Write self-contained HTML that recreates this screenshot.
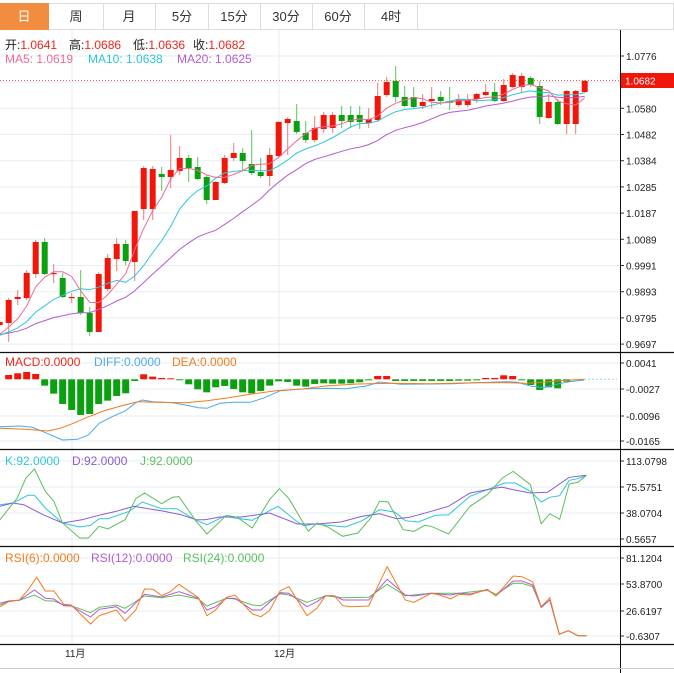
<!DOCTYPE html>
<html><head><meta charset="utf-8">
<style>
html,body{margin:0;padding:0;background:#fff;width:674px;height:673px;overflow:hidden}
svg text{font-family:"Liberation Sans","Noto Sans CJK SC",sans-serif}
</style></head>
<body>
<svg id="s" width="674" height="673" xmlns="http://www.w3.org/2000/svg">
<rect x="0" y="0" width="674" height="673" fill="#fff"/>
<g id="tabs">
<rect x="0.5" y="3.5" width="673" height="26" fill="#fff" stroke="#ddd"/>
<rect x="0" y="3" width="49" height="27" fill="#f28c3e"/>
<g stroke="#ddd"><line x1="103.5" y1="3" x2="103.5" y2="30"/><line x1="155.5" y1="3" x2="155.5" y2="30"/><line x1="208.5" y1="3" x2="208.5" y2="30"/><line x1="260.5" y1="3" x2="260.5" y2="30"/><line x1="312.5" y1="3" x2="312.5" y2="30"/><line x1="364.5" y1="3" x2="364.5" y2="30"/><line x1="417.5" y1="3" x2="417.5" y2="30"/></g>
<g font-size="13" text-anchor="middle" fill="#333">
<text x="24" y="21" fill="#fff">日</text><text x="76" y="21">周</text><text x="129" y="21">月</text><text x="182" y="21">5分</text><text x="234" y="21">15分</text><text x="286" y="21">30分</text><text x="338" y="21">60分</text><text x="391" y="21">4时</text>
</g></g>
<g id="grid" stroke="#e6edf2" stroke-width="1"></g>
<g id="plot"></g>
<g font-size="12">
<text x="5" y="49"><tspan fill="#222">开:</tspan><tspan fill="#f0261e">1.0641</tspan></text>
<text x="69" y="49"><tspan fill="#222">高:</tspan><tspan fill="#f0261e">1.0686</tspan></text>
<text x="133" y="49"><tspan fill="#222">低:</tspan><tspan fill="#f0261e">1.0636</tspan></text>
<text x="193" y="49"><tspan fill="#222">收:</tspan><tspan fill="#f0261e">1.0682</tspan></text>
<text x="5" y="63" fill="#f06a95">MA5: 1.0619</text>
<text x="88" y="63" fill="#2ec6d9">MA10: 1.0638</text>
<text x="177" y="63" fill="#b45ad2">MA20: 1.0625</text>
<text x="5" y="366" fill="#f0261e">MACD:0.0000</text>
<text x="94" y="366" fill="#4aa8f0">DIFF:0.0000</text>
<text x="172" y="366" fill="#f57a1c">DEA:0.0000</text>
<text x="5" y="465" fill="#2ec6d9">K:92.0000</text>
<text x="72" y="465" fill="#8a5ad8">D:92.0000</text>
<text x="140" y="465" fill="#5cbf5c">J:92.0000</text>
<text x="5" y="562" fill="#f57a1c">RSI(6):0.0000</text>
<text x="91" y="562" fill="#b45ad2">RSI(12):0.0000</text>
<text x="183" y="562" fill="#5cbf5c">RSI(24):0.0000</text>
</g>
<g id="axis" font-size="10" fill="#222"></g>
</svg>
<script>
var S=document.getElementById('s'),NS='http://www.w3.org/2000/svg';
function el(p,t,a,txt){var e=document.createElementNS(NS,t);for(var k in a)e.setAttribute(k,a[k]);if(txt!=null)e.textContent=txt;(typeof p=='string'?document.getElementById(p):p).appendChild(e);return e;}
var grid='grid',plot='plot',axis='axis';
var pl=[['1.0776',56],['1.0678',82],['1.0580',108.3],['1.0482',134.5],['1.0384',160.7],['1.0285',186.9],['1.0187',213.1],['1.0089',239.3],['0.9991',265.5],['0.9893',291.7],['0.9795',317.9],['0.9697',344.1]];
pl.forEach(function(p){el(grid,'line',{x1:0,x2:620,y1:p[1],y2:p[1]});if(p[0]!='1.0678')el(axis,'text',{x:626,y:p[1]+4},p[0]);});
var sub=[[363,'0.0041'],[389,'-0.0027'],[416,'-0.0096'],[441,'-0.0165'],[461,'113.0798'],[487,'75.5751'],[513,'38.0704'],[539,'0.5657'],[558,'81.1204'],[584,'53.8700'],[611,'26.6197'],[636,'-0.6307']];
sub.forEach(function(p){el(grid,'line',{x1:0,x2:620,y1:p[0],y2:p[0]});el(axis,'line',{x1:620,x2:624,y1:p[0],y2:p[0],stroke:'#333'});el(axis,'text',{x:626,y:p[0]+4},p[1]);});
pl.forEach(function(p){el(axis,'line',{x1:620,x2:624,y1:p[1],y2:p[1],stroke:'#333'});});
[72,279].forEach(function(x){el(grid,'line',{x1:x,x2:x,y1:30,y2:644});});
el(axis,'text',{x:65,y:657},'11月');el(axis,'text',{x:274,y:657},'12月');
var C=[[325,322,320,327],[323,300,298,342],[299,297,290,305],[298,273,270,300],[274,242,240,278],[242,274,238,275],[273,273,264,283],[278,297,273,298],[297,297,293,303],[297,313,270,315],[313,332,307,336],[332,274,272,332],[289,258,254,291],[259,244,238,271],[244,261,240,265],[262,211,211,281],[209,168,166,220],[209,169,166,220],[174,177,167,191],[177,170,135,188],[171,158,146,175],[158,168,155,182],[167,179,157,180],[177,200,175,204],[200,182,181,200],[183,158,155,184],[158,153,143,161],[153,161,148,170],[164,173,130,175],[172,176,158,178],[176,155,148,186],[156,122,121,157],[123,119,117,155],[121,132,104,134],[133,140,121,143],[140,128,116,142],[129,115,112,133],[128,115,112,133],[115,121,106,128],[115,122,106,128],[115,122,106,129],[123,119,108,128],[120,96,83,122],[95,82,77,97],[81,97,66,102],[97,106,86,107],[97,107,87,108],[106,102,94,109],[101,99,87,108],[97,101,91,105],[101,103,87,110],[105,99,94,107],[105,99,94,107],[99,94,93,103],[95,92,84,96],[92,101,83,102],[101,85,79,102],[87,75,73,88],[87,76,73,92],[78,85,76,87],[86,117,81,124],[118,102,94,119],[102,124,99,125],[124,91,90,134],[124,91,90,134],[92,81,80,93]];
function X(i){return -0.3+9*i;}
el(plot,'line',{x1:0,x2:620,y1:80.5,y2:80.5,stroke:'#f55','stroke-dasharray':'1,2'});
C.forEach(function(c,i){var col=c[1]<=c[0]?'#f0160a':'#0aa00f';var x=X(i);
el(plot,'line',{x1:x,x2:x,y1:c[2],y2:c[3],stroke:col=='#f0160a'?'#f57a72':'#5cc45c'});
var t=Math.min(c[0],c[1]),h=Math.max(Math.abs(c[0]-c[1]),1.2);el(plot,'rect',{x:x-3,y:t,width:6,height:h,fill:col});});
var cl=C.map(function(c){return c[1];});var pre=[];for(var k=0;k<20;k++)pre.push(338-k*0.3);pre.reverse();var all=pre.concat(cl);
function ma(n,col){var pts=[];for(var i=0;i<C.length;i++){var s=0;for(var j=0;j<n;j++)s+=all[20+i-j];pts.push(X(i).toFixed(1)+','+(s/n).toFixed(1));}el(plot,'polyline',{points:pts.join(' '),fill:'none',stroke:col,'stroke-width':1});}
ma(20,'#b45ad2');ma(10,'#2ec6d9');ma(5,'#f06a95');
el(axis,'rect',{x:621,y:73,width:53,height:15,fill:'#f0160a'});el(axis,'text',{x:625,y:84.5,fill:'#fff'},'1.0682');
var Z=379.3;var B={1:-13,2:-18,3:-22,4:-16,5:19,6:43,7:74,8:92,9:107,10:104,11:74,12:64,13:50,14:42,15:5,16:-15,17:-8,18:-4,19:-3,20:2,21:15,22:30,23:39,24:24,25:20,26:29,27:39,28:42,29:35,30:19,31:6,32:8,33:19,34:22,35:14,36:12,37:13,38:13,39:12,40:9,41:2,42:-10,43:-10,44:5,45:5,46:5,47:5,48:5,49:5,50:5,51:4,52:4,53:3,54:-4,55:-4,56:-12,57:-10,58:2,59:17,60:32,61:24,62:27,63:7};
for(var i in B){var v=B[i]/3,x=X(+i);el(plot,'rect',{x:x-3.5,y:v<0?Z+v:Z,width:7,height:Math.max(Math.abs(v),1),fill:v<0?'#f0160a':'#0aa00f'});}
function line(pts,y0,col){var s=pts.map(function(p){return (p[0]/2.319).toFixed(1)+','+(y0+p[1]/3).toFixed(1);}).join(' ');el(plot,'polyline',{points:s,fill:'none',stroke:col,'stroke-width':1});}
line([[0,230],[45,228],[75,232],[100,245],[145,270],[180,268],[205,255],[230,220],[260,200],[290,183],[315,158],[330,150],[355,155],[400,158],[430,165],[460,173],[480,175],[510,160],[540,157],[580,157],[610,145],[650,122],[700,117],[760,115],[800,116],[850,108],[880,96],[930,103],[1000,102],[1050,101],[1100,98],[1175,95],[1200,97],[1230,108],[1260,113],[1290,103],[1320,95],[1355,90]],350,'#4aa8f0');
line([[0,235],[60,238],[110,243],[140,235],[170,220],[200,203],[240,183],[280,168],[320,155],[360,157],[430,158],[480,152],[530,143],[580,133],[640,122],[700,117],[760,107],[830,102],[900,100],[1000,101],[1100,98],[1175,98],[1220,100],[1260,97],[1300,92],[1355,88]],350,'#f57a1c');
el(plot,'line',{x1:584,x2:617,y1:379.3,y2:379.3,stroke:'#9cd0f0','stroke-dasharray':'2,2'});
line([[0,170],[30,165],[65,142],[80,142],[105,180],[145,225],[185,237],[210,232],[230,212],[250,212],[300,190],[330,162],[375,182],[410,182],[455,217],[480,230],[520,205],[545,210],[585,217],[625,188],[645,175],[690,222],[705,233],[730,228],[800,237],[840,218],[880,185],[915,192],[940,218],[970,222],[1010,202],[1040,200],[1090,145],[1130,125],[1170,105],[1195,105],[1230,130],[1255,162],[1275,148],[1298,143],[1320,97],[1340,92],[1360,82]],448,'#2ec6d9');
line([[0,175],[30,165],[55,170],[100,200],[145,225],[190,215],[235,200],[270,190],[310,175],[380,190],[420,200],[455,215],[475,215],[510,207],[560,207],[625,195],[690,228],[735,228],[790,222],[840,205],[880,197],[920,212],[950,208],[1000,190],[1040,175],[1090,135],[1150,120],[1165,118],[1190,125],[1230,135],[1270,133],[1320,88],[1360,82]],448,'#8a5ad8');
line([[0,215],[40,150],[60,90],[80,63],[105,130],[125,160],[145,225],[185,270],[205,270],[230,235],[250,243],[290,215],[315,152],[335,135],[375,167],[400,148],[415,146],[455,220],[480,258],[525,202],[550,208],[585,240],[625,155],[648,122],[670,152],[715,250],[735,225],[760,237],[795,265],[830,255],[860,210],[880,160],[900,162],[935,245],[960,250],[985,232],[1000,235],[1040,258],[1090,175],[1130,140],[1165,90],[1190,70],[1230,110],[1255,227],[1275,197],[1298,214],[1320,108],[1340,103],[1360,82]],448,'#5cbf5c');
line([[0,180],[20,168],[45,166],[80,150],[105,167],[125,168],[148,180],[165,182],[210,203],[230,187],[270,180],[290,190],[335,153],[375,158],[415,150],[460,162],[480,183],[525,160],[545,162],[585,180],[605,182],[650,146],[670,150],[712,172],[755,152],[795,158],[855,157],[898,118],[940,152],[1000,145],[1065,145],[1130,135],[1150,148],[1190,115],[1210,115],[1235,125],[1255,185],[1275,165],[1297,268],[1318,257],[1340,272],[1360,272]],545,'#5cbf5c');
line([[0,175],[20,168],[45,166],[80,135],[105,160],[125,162],[148,182],[165,183],[210,216],[230,193],[270,185],[290,205],[335,148],[375,156],[415,140],[460,160],[480,195],[500,185],[525,160],[545,160],[585,195],[605,195],[650,143],[670,145],[712,185],[735,170],[755,152],[775,152],[795,165],[855,165],[898,103],[940,150],[960,153],[1000,145],[1045,150],[1065,145],[1090,147],[1130,135],[1150,152],[1190,108],[1210,108],[1235,120],[1255,188],[1275,165],[1297,268],[1318,257],[1340,272],[1360,272]],545,'#b45ad2');
line([[0,185],[20,170],[45,165],[65,135],[85,97],[105,138],[125,138],[148,178],[165,180],[210,237],[230,212],[270,195],[290,228],[315,195],[335,132],[355,133],[375,152],[395,140],[415,118],[460,158],[480,212],[500,195],[525,157],[545,150],[585,207],[605,215],[625,197],[650,137],[670,125],[712,212],[735,190],[755,152],[775,152],[795,182],[815,185],[855,183],[875,127],[898,65],[940,165],[960,172],[1000,145],[1020,150],[1045,162],[1065,148],[1090,150],[1130,133],[1150,153],[1190,93],[1210,95],[1235,110],[1255,185],[1275,158],[1297,268],[1318,257],[1340,272],[1360,272]],545,'#f57a1c');
[352.5,449.5,546.5,644.5].forEach(function(y){el(axis,'line',{x1:0,x2:674,y1:y,y2:y,stroke:'#111','stroke-width':1.2});});
el(axis,'line',{x1:620.5,x2:620.5,y1:30,y2:673,stroke:'#111'});
el(axis,'line',{x1:0,x2:674,y1:668.5,y2:668.5,stroke:'#ccc'});
</script>
</body></html>
